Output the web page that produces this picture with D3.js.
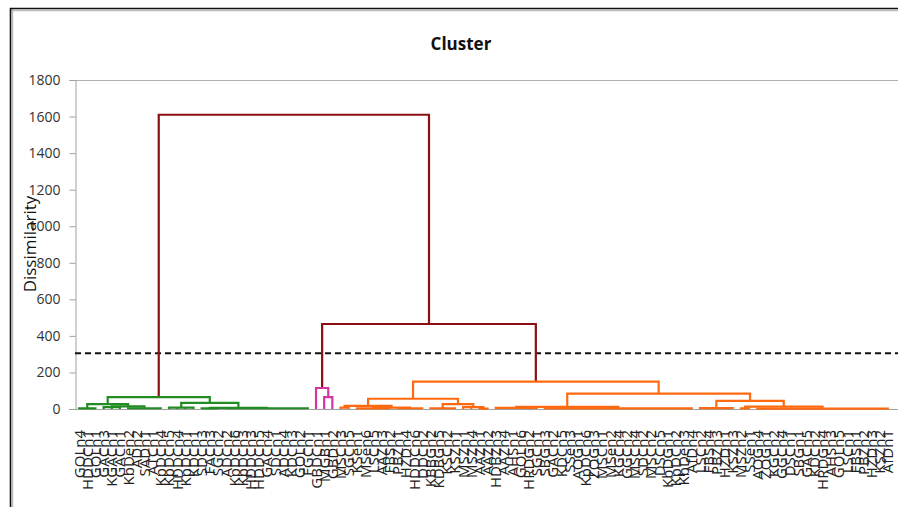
<!DOCTYPE html>
<html>
<head>
<meta charset="utf-8">
<script src="https://cdn.jsdelivr.net/npm/d3@7"></script>
<style>
  html, body { margin: 0; padding: 0; background: #fff; }
  svg { display: block; }
</style>
</head>
<body>
<svg id="chart" width="898" height="507"></svg>
<script>
// ---------------- data ----------------
const title = "Cluster";
const yLabel = "Dissimilarity";
const yTicks = [0, 200, 400, 600, 800, 1000, 1200, 1400, 1600, 1800];
const truncation = 305;

const greenLabels = ["GOLn4","HDDCn1","GOLn1","GACn3","KGACn1","GACn1","KbDen2","ADn2","SADn1","ATCn1",
  "KpDCn4","KpDCn5","HDDCn4","KpDCn1","KDCn1","SDCn3","FACn3","SGCn2","ADCn2","KpDCn6",
  "KpDCn3","HDDCn3","HDDCn5","GACn4","SDCn1","ADCn4","KDCn3","GOLn2","FGCn1"];
const pinkLabels = ["GBDCn1","MGBn1","GBDn2"];
const orangeLabels = ["MSCn3","SGCn5","KSen1","MSen6","LSCn5","AAZn3","FBSn2","PBZn1","HZDn4","HDDCn6",
  "DDCn2","KBBGn2","KDBGn5","KSCn2","KSZn1","MSZn1","MSZn4","AAZn1","AAZn2","HDBZn3",
  "AAZn4","AHSn1","GOLn6","HRDGn2","SGCn1","SBGn3","GACn2","KDCn5","SSen3","AOGn1",
  "KpDCn6","ZOGn3","MSCn1","MSen2","KGCn4","GGCn2","MSCn4","SDCn2","MSCn2","DSCn5",
  "KbDGn1","KpDCn2","KbDen3","AfDn4","LSCn2","FBSn4","PBZn3","HZDn1","KSZn3","MSZn2",
  "SSen1","AOGn4","ZOGn1","KGCn2","GGCn4","DSCn1","SBGn1","GACn5","KDCn2","HRDGn4",
  "AHSn3","GOLn5","LSCn1","FBSn1","PBZn2","HZDn3","KSZn2","AfDn1"];

// tree nodes: [height, child, child, ...]; a number is a leaf index
const greenTree = [65,
  [27, [3, 0, 1, 2], [14, [10, 3, 4, 5], [4, 6, 7, 8, 9, 10]]],
  [33, [8, 11, 12, 13, 14], [6, [3, 15, 16, 17], [4, 18, 19, 20, 21, 22, 23, 24, 25, 26, 27, 28]]]
];
const pinkTree = [115, 29, [65, 30, 31]];
const orangeTree = [150,
  [56,
    [17, [8, 32, 33], [8, [3, 34, 35, 36, 37, 38], [4, 39, 40, 41, 42]]],
    [27, [4, 43, 44, 45, 46], [10, 47, 48, [2, 49, 50]]]
  ],
  [84,
    [12, [6, 51, 52, 53, 54, 55, 56], [3, 57, 58, 59, 60, 61, 62, 63, 64, 65, 66, 67, 68, 69, 70, 71, 72, 73, 74, 75]],
    [44, [5, 76, 77, 78, 79, 80], [13, [3, 81, 82], [2, 83, 84, 85, 86, 87, 88, 89, 90, 91, 92, 93, 94, 95, 96, 97, 98, 99]]]
  ]
];
const upperTree = [465, pinkTree, orangeTree];
const rootTree = [1610, greenTree, upperTree];

const clusterColors = [[greenTree, "#218c21"], [pinkTree, "#d4359f"], [orangeTree, "#ff6a10"]];
const linkColor = "#8b0f12";

// ---------------- drawing ----------------
const labels = greenLabels.concat(pinkLabels, orangeLabels);
const svg = d3.select("#chart");

const x = d3.scaleBand().domain(d3.range(labels.length)).range([75, 892]);
const y = d3.scaleLinear().domain([0, 1800]).range([409, 80]);

// frame
svg.append("line").attr("x1", 10).attr("x2", 898).attr("y1", 10.5).attr("y2", 10.5).attr("stroke", "#bbb").attr("stroke-width", 1.5);
svg.append("line").attr("x1", 12.5).attr("x2", 12.5).attr("y1", 8).attr("y2", 507).attr("stroke", "#bbb").attr("stroke-width", 1.5);
svg.append("line").attr("x1", 10).attr("x2", 898).attr("y1", 8.5).attr("y2", 8.5).attr("stroke", "#111").attr("stroke-width", 1.6);
svg.append("line").attr("x1", 10.5).attr("x2", 10.5).attr("y1", 8).attr("y2", 507).attr("stroke", "#111").attr("stroke-width", 1.6);

// title
svg.append("text").attr("x", 461).attr("y", 50).attr("text-anchor", "middle")
  .attr("font-family", "Open Sans, sans-serif").attr("font-weight", "bold").attr("font-size", 17)
  .attr("fill", "#111").text(title);

// plot top border
svg.append("line").attr("x1", 75).attr("x2", 898).attr("y1", y(1800) + 0.5).attr("y2", y(1800) + 0.5)
  .attr("stroke", "#b0b0b0").attr("stroke-width", 1);

// y axis
const yAxis = d3.axisLeft(y).tickValues(yTicks).tickFormat(d3.format("d")).tickSize(6).tickPadding(9);
const ga = svg.append("g").attr("transform", "translate(75.5,0)").call(yAxis);
ga.select(".domain").attr("stroke", "#a0a0a0");
ga.selectAll(".tick line").attr("stroke", "#a0a0a0");
ga.selectAll(".tick text").attr("font-family", "Open Sans, sans-serif").attr("font-size", 14).attr("fill", "#333");

// x axis baseline
svg.append("line").attr("x1", 69).attr("x2", 898).attr("y1", y(0) + 0.5).attr("y2", y(0) + 0.5)
  .attr("stroke", "#a0a0a0").attr("stroke-width", 1);

// truncation line
svg.append("line").attr("x1", 75).attr("x2", 898).attr("y1", y(truncation)).attr("y2", y(truncation))
  .attr("stroke", "#111").attr("stroke-width", 2).attr("stroke-dasharray", "6,4");

// hierarchy
const colorMap = new Map(clusterColors);
const root = d3.hierarchy(rootTree, d => Array.isArray(d) ? d.slice(1) : null);
root.eachAfter(n => {
  if (!n.children) {
    n.px = x(n.data) + x.bandwidth() / 2;
    n.h = 0;
  } else {
    n.h = n.data[0];
    n.px = (n.children[0].px + n.children[n.children.length - 1].px) / 2;
  }
  const anc = n.ancestors().find(a => colorMap.has(a.data));
  n.color = anc ? colorMap.get(anc.data) : linkColor;
});

const internal = root.descendants().filter(n => n.children);
const g = svg.append("g").attr("fill", "none").attr("stroke-width", 2.2);
internal.forEach(n => {
  const first = n.children[0], last = n.children[n.children.length - 1];
  let d = `M${first.px},${y(first.h)}V${y(n.h)}H${last.px}V${y(last.h)}`;
  n.children.slice(1, -1).forEach(c => { d += `M${c.px},${y(c.h)}V${y(n.h)}`; });
  g.append("path").attr("d", d).attr("stroke", n.color);
});

// x labels
svg.append("g").selectAll("text").data(labels).join("text")
  .attr("transform", (d, i) => `translate(${x(i) + x.bandwidth() / 2 + 5.5},430) rotate(-90)`)
  .attr("text-anchor", "end")
  .attr("font-family", "Open Sans, sans-serif").attr("font-size", 15).attr("fill", "#222")
  .text(d => d);

// y label
svg.append("text").attr("transform", "translate(36,244) rotate(-90)").attr("text-anchor", "middle")
  .attr("font-family", "Open Sans, sans-serif").attr("font-size", 17).attr("fill", "#111")
  .text(yLabel);
</script>
</body>
</html>
